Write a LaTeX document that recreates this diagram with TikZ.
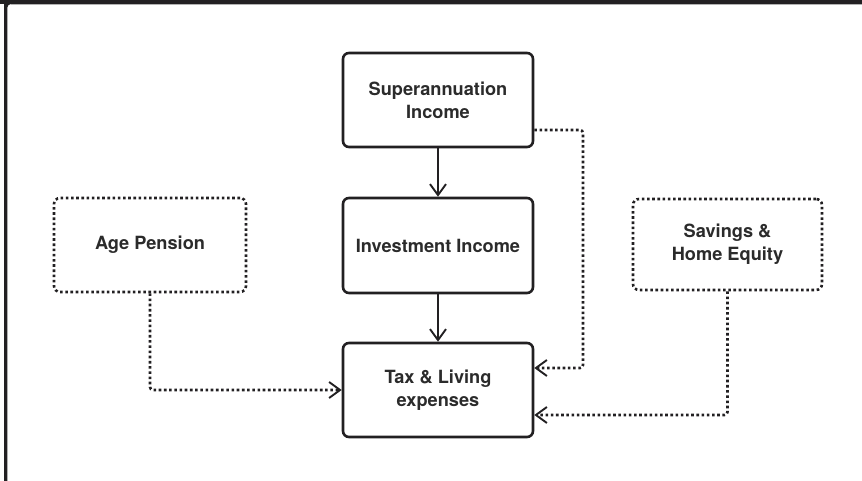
\documentclass[tikz,border=0pt]{standalone}
\usepackage{fontspec}
\setmainfont{TeX Gyre Heros}
\usetikzlibrary{arrows.meta}
\definecolor{ink}{HTML}{222022}
\definecolor{txt}{HTML}{2B2B2B}
\tikzset{
  box/.style={draw=ink, line width=2.6pt, rounded corners=6pt, align=center,
    font=\fontsize{18.2}{22.8}\selectfont\bfseries, text=txt, inner sep=0pt},
  solidbox/.style={box},
  dotbox/.style={box, dash pattern=on 2.6pt off 2.6pt, line width=2.6pt},
  flow/.style={draw=ink, line width=1.9pt, -{Straight Barb[length=11pt, width=16pt, line width=1.9pt]}},
  dotflow/.style={draw=ink, line width=2.6pt, dash pattern=on 2.6pt off 2.6pt, rounded corners=3pt,
    -{Straight Barb[length=11pt, width=16pt, line width=1.9pt]}},
}
\begin{document}
\begin{tikzpicture}[x=1pt, y=-1pt]
  \useasboundingbox (0,0) rectangle (862,481);
  % outer frame: heavy top band and left rule
  \fill[ink] (0,0) -- (862,0) -- (862,4) -- (11,4) arc[start angle=90, end angle=180, radius=3.7pt]
    -- (7.3,481) -- (4,481) -- (4,4) -- (0,4) -- cycle;
  \draw[gray!60, line width=0.6pt] (11,4.6) -- (862,4.6);

  % boxes
  \node[solidbox, minimum width=190pt, minimum height=94pt] (super) at (438,100) {Superannuation\\Income};
  \node[solidbox, minimum width=190pt, minimum height=95pt] (invest) at (438,245.5) {Investment Income};
  \node[solidbox, minimum width=190pt, minimum height=94pt] (tax) at (438,390) {Tax \& Living\\expenses};
  \node[dotbox, minimum width=192pt, minimum height=94pt] (age) at (150,245) {Age Pension};
  \node[dotbox, minimum width=189pt, minimum height=91pt] (sav) at (727.5,244.5) {Savings \&\\Home Equity};

  % solid flows
  \draw[flow] (super.south) -- (invest.north);
  \draw[flow] (invest.south) -- (tax.north);

  % dotted flows
  \draw[dotflow] ([yshift=-30pt]super.east) -- (583,130) -- (583,368) -- ([yshift=22pt]tax.east);
  \draw[dotflow] (age.south) -- (150,390) -- (tax.west);
  \draw[dotflow] (sav.south) -- (sav.south |- 0,415) -- ([yshift=-25pt]tax.east);
\end{tikzpicture}
\end{document}
